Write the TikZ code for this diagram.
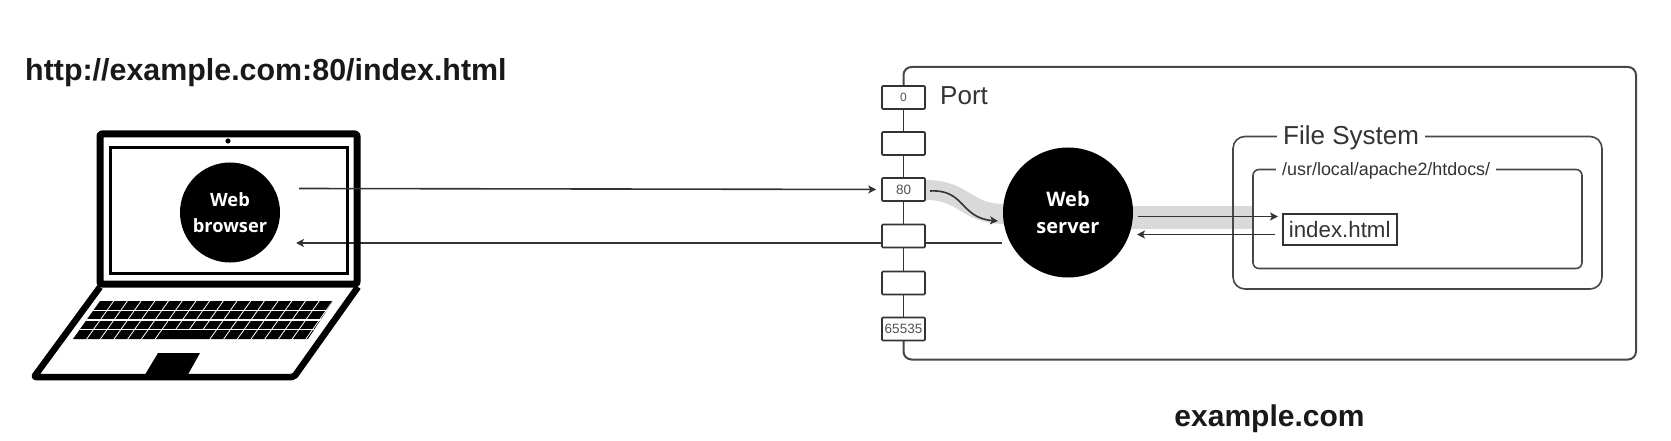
\documentclass[tikz,border=0pt]{standalone}
\usepackage{fontspec}
\setmainfont{Liberation Sans}
\newfontfamily\circfont{Open Sans}
\usetikzlibrary{arrows.meta,backgrounds,calc}
\pgfdeclarelayer{bands}
\pgfsetlayers{bands,background,main}
\definecolor{ink}{HTML}{333333}
\definecolor{band}{HTML}{D9D9D9}
\tikzset{
  x=1pt,y=-1pt,
  portbox/.style={draw=ink,line width=1.6pt,fill=white,minimum width=43pt,minimum height=23pt,inner sep=0pt,rounded corners=1pt,font=\fontsize{13.5}{14}\selectfont,text=ink!85},
  bigcirc/.style={circle,fill=black,text=white,inner sep=0pt,align=center,font=\circfont\bfseries},
  conn/.style={draw=ink,line width=1.6pt},
  arr/.style={conn,-{Stealth[length=8pt,width=8pt,inset=2pt]}},
  frame/.style={draw=ink!90,line width=1.6pt,rounded corners=9pt},
  toplabel/.style={fill=white,inner xsep=6pt,inner ysep=0pt,anchor=west,text=ink},
  bandline/.style={draw=band,line width=20pt},
  lapline/.style={draw=black,line width=7pt,line join=round,rounded corners=2pt},
  keygap/.style={draw=white,line width=0.8pt},
}
\begin{document}
\begin{tikzpicture}
\useasboundingbox (0,0) rectangle (1671,441);
\begin{pgfonlayer}{bands}
  \fill[white] (0,0) rectangle (1671,441);
\end{pgfonlayer}
% titles
\node[anchor=west,inner sep=0pt,font=\fontsize{30.4}{32}\selectfont\bfseries,text=black!90] (url) at (25,73) {http://example.com:80/index.html};
\node[inner sep=0pt,font=\fontsize{30}{32}\selectfont\bfseries,text=black!90] (host) at (1269.5,419) {example.com};
% laptop lid
\draw[lapline] (100,134) rectangle (357,284);
\draw[draw=black,line width=3pt] (110,148) rectangle (347,273);
\fill[black] (228,141) circle (2.6);
% laptop base
\draw[lapline,line width=6.5pt] (100,287) -- (34,377) -- (294,377) -- (358,287);
% keyboard
\begin{scope}
  \clip (100,301) -- (333,301) -- (308,339) -- (73,339) -- cycle;
  \fill[black] (60,295) rectangle (345,345);
  \foreach \yy in {310.5,320,329.5}
    \draw[keygap,line width=1.1pt] (60,\yy) -- (345,\yy);
  \foreach \rr/\yt in {0/301,1/310.5,2/320}
    \foreach \i in {1,...,17}
      \draw[keygap] ({100+13.7*\i-6.75*\rr},\yt) -- ({93.25+13.7*\i-6.75*\rr},\yt+9.5);
  \foreach \i in {1,...,6,10,11,...,17}
    \draw[keygap] ({79.75+13.7*\i},329.5) -- ({73+13.7*\i},339);
\end{scope}
\fill[black] (158,353) -- (200,353) -- (186,378) -- (143,378) -- cycle;
% big circles
\node[bigcirc,minimum size=100pt,font=\circfont\bfseries\fontsize{18.3}{25.5}\selectfont] (browser) at (230,212.5) {Web\\browser};
\node[bigcirc,minimum size=130pt,font=\circfont\bfseries\fontsize{20}{26.5}\selectfont] (server) at (1068,212.5) {Web\\server};
% ports
\node[portbox,font=\fontsize{12}{13}\selectfont] (p0) at (903.5,97.5) {0};
\node[portbox] (p1) at (903.5,143.5) {};
\node[portbox] (p80) at (903.5,189.5) {80};
\node[portbox] (p3) at (903.5,236) {};
\node[portbox] (p4) at (903.5,283) {};
\node[portbox] (p65535) at (903.5,329) {65535};
\node[anchor=base west,inner sep=0pt,font=\fontsize{26}{28}\selectfont,text=ink] (portlabel) at (940,105) {Port};
% file system frames
\node[frame,minimum width=369pt,minimum height=152.5pt,rounded corners=12pt,inner sep=0pt] (fs) at (1417.5,212.75) {};
\node[frame,minimum width=329pt,minimum height=99pt,rounded corners=6pt,inner sep=0pt] (docroot) at (1417.5,219) {};
\node[toplabel,font=\fontsize{26}{28}\selectfont] (fslabel) at (1277,138) {File System};
\node[toplabel,font=\fontsize{17.9}{19}\selectfont] (rootlabel) at (1276,170.5) {/usr/local/apache2/htdocs/};
\node[draw=ink,line width=1.8pt,fill=white,minimum width=114pt,minimum height=31pt,inner sep=0pt,font=\fontsize{22.3}{24}\selectfont,text=ink] (index) at (1339.7,229.5) {index.html};
% coordinates for free ends
\coordinate (bOut) at (299,188.5);
\coordinate (bIn) at (296,243);
\coordinate (sIn) at (1002,243);
\coordinate (curveA) at (930,191);
\coordinate (curveB) at (998,221);
\coordinate (fA) at (1138,216.5);
\coordinate (fB) at (1278,216.5);
\coordinate (rA) at (1275,234.5);
\coordinate (rB) at (1137,234.5);
\coordinate (bandA) at (926,190);
\coordinate (bandB) at (1005,214);
\coordinate (bandC) at (1130,217.5);
\coordinate (bandD) at (1253,217.5);
% highlight bands
\begin{pgfonlayer}{bands}
  \draw[bandline] (bandA) .. controls (965,190) and (965,214) .. (bandB);
  \draw[bandline,line width=23pt] (bandC) -- (bandD);
\end{pgfonlayer}
% outer box
\begin{pgfonlayer}{background}
  \draw[frame,line width=2pt,rounded corners=8pt] (p0.center) -- (903.5,67) -- (1636,67) -- (1636,359.5) -- (903.5,359.5) -- (p65535.center);
  \draw[conn] (p0) -- (p1);
  \draw[conn] (p1) -- (p80);
  \draw[conn] (p80) -- (p3);
  \draw[conn] (p3) -- (p4);
  \draw[conn] (p4) -- (p65535);
  \draw[arr] (sIn) -- (bIn);
\end{pgfonlayer}
% connectors
\draw[arr,shorten >=5pt] (bOut) -- (p80);
\draw[arr] (curveA) .. controls (965,189) and (960,218) .. (curveB);
\draw[arr] (fA) -- (fB);
\draw[arr] (rA) -- (rB);
\end{tikzpicture}
\end{document}
